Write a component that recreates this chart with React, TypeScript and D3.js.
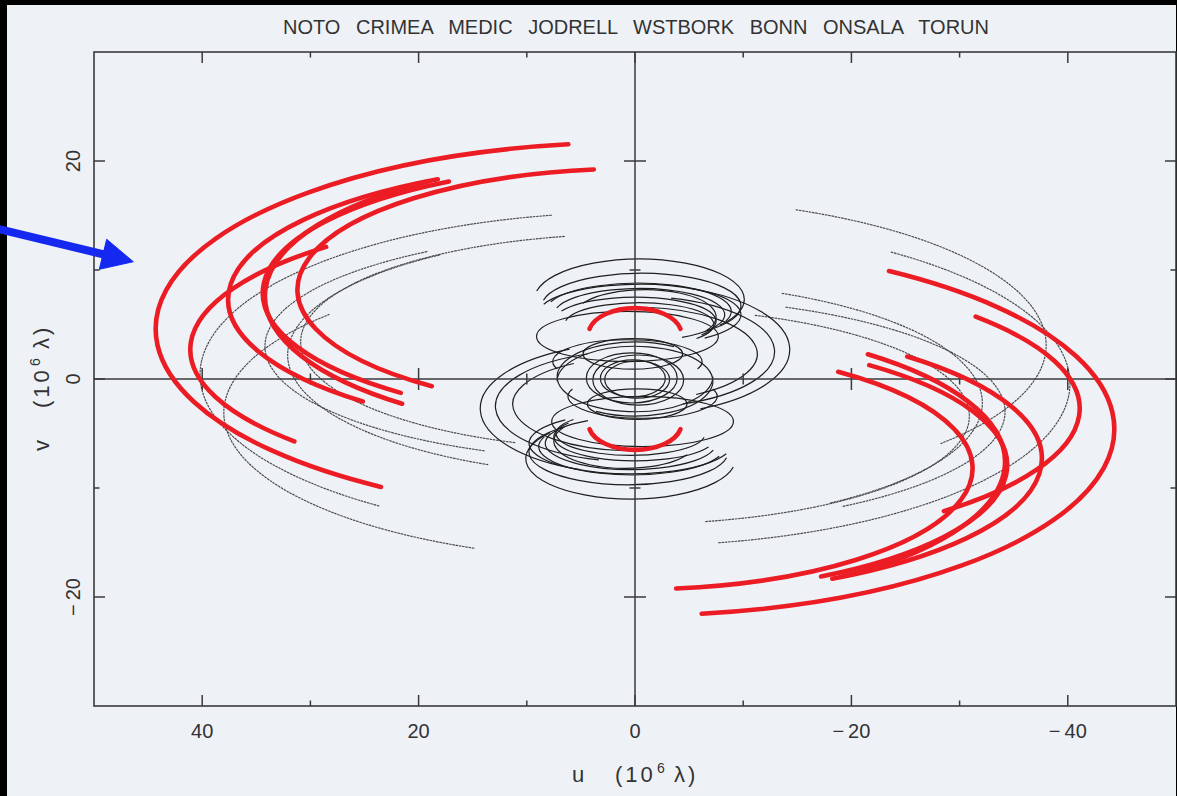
import React from 'react'
import * as d3 from 'd3'

const title = 'NOTO CRIMEA MEDIC JODRELL WSTBORK BONN ONSALA TORUN'
const uTickLabels = [40, 20, 0, -20, -40]
const vTickLabels = [20, 0, -20]
const uTicks = [40, 30, 20, 10, 0, -10, -20, -30, -40]
const vTicks = [20, 10, 0, -10, -20]

// uv tracks read off the plot as elliptical arcs:
// centre (cu, cv) and half axes (ru, rv) in 10^6 lambda, a0..a1 = angle along the ellipse (deg).
// every track is drawn a second time at (-u, -v).
const redTracks = [
    { cu: 0, cv: 4.6, ru: 44.3, rv: 17.1, a0: -58, a1: 82 },
    { cu: 0, cv: 2.7, ru: 41.1, rv: 13.1, a0: -40, a1: 46 },
    { cu: 0, cv: 7.3, ru: 37.6, rv: 12.6, a0: -48, a1: 61 },
    { cu: 0, cv: 7.9, ru: 34.4, rv: 11.8, a0: -51, a1: 60 },
    { cu: 0, cv: 7.6, ru: 34.2, rv: 12.7, a0: -51, a1: 56 },
    { cu: 0, cv: 8.2, ru: 31.2, rv: 11.1, a0: -53, a1: 83 },
    { cu: 0, cv: 4.1, ru: 4.3, rv: 2.4, a0: 12, a1: 168 },
]

const dottedTracks = [
    { cu: 0, cv: 0.4, ru: 40.2, rv: 14.9, a0: -54, a1: 79 },
    { cu: 0, cv: -3.1, ru: 38.0, rv: 13.5, a0: -67, a1: 42 },
    { cu: 0, cv: 3.4, ru: 30.9, rv: 9.9, a0: -69, a1: 78 },
    { cu: 0, cv: 3.0, ru: 34.2, rv: 10.5, a0: -66, a1: 56 },
    { cu: 0, cv: 2.2, ru: 32.1, rv: 11.1, a0: -65, a1: 56 },
]

const blackTracks = [
    { cu: -0.4, cv: 7.3, ru: 9.7, rv: 3.7, a0: 12, a1: 220 },
    { cu: -0.6, cv: 6.7, ru: 9.2, rv: 3.0, a0: 10, a1: 230 },
    { cu: -0.3, cv: 6.2, ru: 8.6, rv: 2.6, a0: 20, a1: 200 },
    { cu: -0.4, cv: 5.9, ru: 9.4, rv: 2.8, a0: 20, a1: 230 },
    { cu: -0.4, cv: 5.9, ru: 7.9, rv: 2.4, a0: 15, a1: 240 },
    { cu: -0.9, cv: 5.7, ru: 6.6, rv: 2.5, a0: 30, a1: 210 },
    { cu: 0, cv: 5.3, ru: 7.5, rv: 2.2, a0: 25, a1: 215 },
    { cu: -0.4, cv: 5.0, ru: 6.9, rv: 2.0, a0: 10, a1: 220 },
    { cu: 0.7, cv: 3.9, ru: 8.4, rv: 2.3, a0: 0, a1: 360 },
    { cu: 0, cv: 2.7, ru: 14.3, rv: 6.0, a0: 111, a1: 245 },
    { cu: 0, cv: 2.5, ru: 12.9, rv: 5.1, a0: 105, a1: 250 },
    { cu: 0, cv: 2.3, ru: 11.3, rv: 4.3, a0: 95, a1: 240 },
    { cu: 0, cv: -0.2, ru: 7.2, rv: 3.2, a0: 0, a1: 300 },
    { cu: 0.3, cv: 0.1, ru: 4.2, rv: 2.3, a0: 0, a1: 360 },
    { cu: 0.2, cv: 0.05, ru: 3.0, rv: 1.7, a0: 0, a1: 360 },
    { cu: 0.2, cv: 2.3, ru: 4.6, rv: 1.4, a0: 0, a1: 360 },
    { cu: 0.7, cv: 1.6, ru: 6.9, rv: 2.0, a0: -20, a1: 200 },
]

const W = 1177
const H = 796
const font = '"Liberation Sans", Arial, sans-serif'
const ink = '#333'

export default function App() {
    const x = d3.scaleLinear().domain([50, -50]).range([94, 1176])
    const y = d3.scaleLinear().domain([-30, 30]).range([706, 52])
    const rad = Math.PI / 180

    // elliptical arc in screen space, optionally the conjugate (-u, -v) track
    const arcPath = (t, conj) => {
        const s = conj ? -1 : 1
        const off = conj ? 180 : 0
        const rx = Math.abs(x(t.ru) - x(0))
        const ry = Math.abs(y(t.rv) - y(0))
        const pt = (a) => {
            const r = (a + off) * rad
            return [x(s * t.cu + t.ru * Math.cos(r)), y(s * t.cv + t.rv * Math.sin(r))]
        }
        const span = t.a1 - t.a0
        if (span >= 360) {
            const [x1, y1] = pt(t.a0)
            const [x2, y2] = pt(t.a0 + 180)
            return `M${x1},${y1}A${rx},${ry} 0 0 1 ${x2},${y2}A${rx},${ry} 0 0 1 ${x1},${y1}Z`
        }
        const [x1, y1] = pt(t.a0)
        const [x2, y2] = pt(t.a1)
        return `M${x1},${y1}A${rx},${ry} 0 ${span > 180 ? 1 : 0} 1 ${x2},${y2}`
    }

    const both = (arr) => arr.flatMap((t, i) => [[t, false, `${i}a`], [t, true, `${i}b`]])
    const fmt = (v) => (v < 0 ? '\u2212\u2009' + Math.abs(v) : String(v))
    const [left, right] = x.range()
    const [bottom, top] = y.range()

    return (
        <svg width={W} height={H} style={{ position: 'absolute', left: 0, top: 0, display: 'block' }}>
            <rect width={W} height={H} fill="#000" />
            <rect x={7} y={5} width={1169} height={H - 5} fill="#eef2f7" />

            {/* title */}
            <text x={636} y={34} textAnchor="middle" fontFamily={font} fontSize={20} fill={ink}
                style={{ wordSpacing: '10px' }}>{title}</text>

            {/* uv tracks */}
            <g fill="none" stroke="#4a4a4a" strokeWidth={1.15} strokeDasharray="2.6 0.7">
                {both(dottedTracks).map(([t, c, k]) => <path key={k} d={arcPath(t, c)} />)}
            </g>
            <g fill="none" stroke="#1e1e1e" strokeWidth={1.2}>
                {both(blackTracks).map(([t, c, k]) => <path key={k} d={arcPath(t, c)} />)}
            </g>

            {/* frame */}
            <rect x={left} y={top} width={right - left} height={bottom - top} fill="none" stroke="#3a3a3a" strokeWidth={1.6} />
            <g stroke="#3a3a3a" strokeWidth={1.5}>
                <line x1={left} x2={right} y1={y(0)} y2={y(0)} />
                <line x1={x(0)} x2={x(0)} y1={top} y2={bottom} />
                {uTicks.map((u) => {
                    const len = u % 20 === 0 ? 11 : 5.5
                    return (
                        <g key={'u' + u}>
                            <line x1={x(u)} x2={x(u)} y1={bottom} y2={bottom - len} />
                            <line x1={x(u)} x2={x(u)} y1={top} y2={top + len} />
                            {u !== 0 && <line x1={x(u)} x2={x(u)} y1={y(0) - len} y2={y(0) + len} />}
                        </g>
                    )
                })}
                {vTicks.map((v) => {
                    const len = v % 20 === 0 ? 11 : 5.5
                    return (
                        <g key={'v' + v}>
                            <line x1={left} x2={left + len} y1={y(v)} y2={y(v)} />
                            <line x1={right} x2={right - len} y1={y(v)} y2={y(v)} />
                            {v !== 0 && <line x1={x(0) - len} x2={x(0) + len} y1={y(v)} y2={y(v)} />}
                        </g>
                    )
                })}
            </g>

            {/* red hand-marked tracks */}
            <g fill="none" stroke="#ec1c24" strokeWidth={4.6} strokeLinecap="round">
                {both(redTracks).map(([t, c, k]) => <path key={k} d={arcPath(t, c)} />)}
            </g>

            {/* tick labels */}
            <g fontFamily={font} fontSize={20} fill={ink}>
                {uTickLabels.map((u) => (
                    <text key={u} x={x(u)} y={738} textAnchor="middle">{fmt(u)}</text>
                ))}
                {vTickLabels.map((v) => (
                    <text key={v} transform={`translate(80,${y(v)}) rotate(-90)`} textAnchor="middle">{fmt(v)}</text>
                ))}
            </g>

            {/* axis titles */}
            <text fontFamily={font} fontSize={22} fill={ink} y={782}>
                <tspan x={572}>u</tspan>
                <tspan x={615} letterSpacing={3}>(10</tspan>
                <tspan x={657} dy={-9} fontSize={14}>6</tspan>
                <tspan x={674} dy={9} letterSpacing={3}>λ)</tspan>
            </text>
            <text fontFamily={font} fontSize={22} fill={ink} transform="translate(49,0) rotate(-90)">
                <tspan x={-451}>v</tspan>
                <tspan x={-408} letterSpacing={3}>(10</tspan>
                <tspan x={-366} dy={-9} fontSize={14}>6</tspan>
                <tspan x={-349} dy={9} letterSpacing={3}>λ)</tspan>
            </text>

            {/* blue arrow */}
            <g fill="#1428f0" stroke="#1428f0">
                <line x1={-2} y1={229} x2={104} y2={254.5} strokeWidth={8} />
                <polygon points="106.7,239.3 133.3,261.7 99.3,269.3" strokeWidth={1} />
            </g>
        </svg>
    )
}
